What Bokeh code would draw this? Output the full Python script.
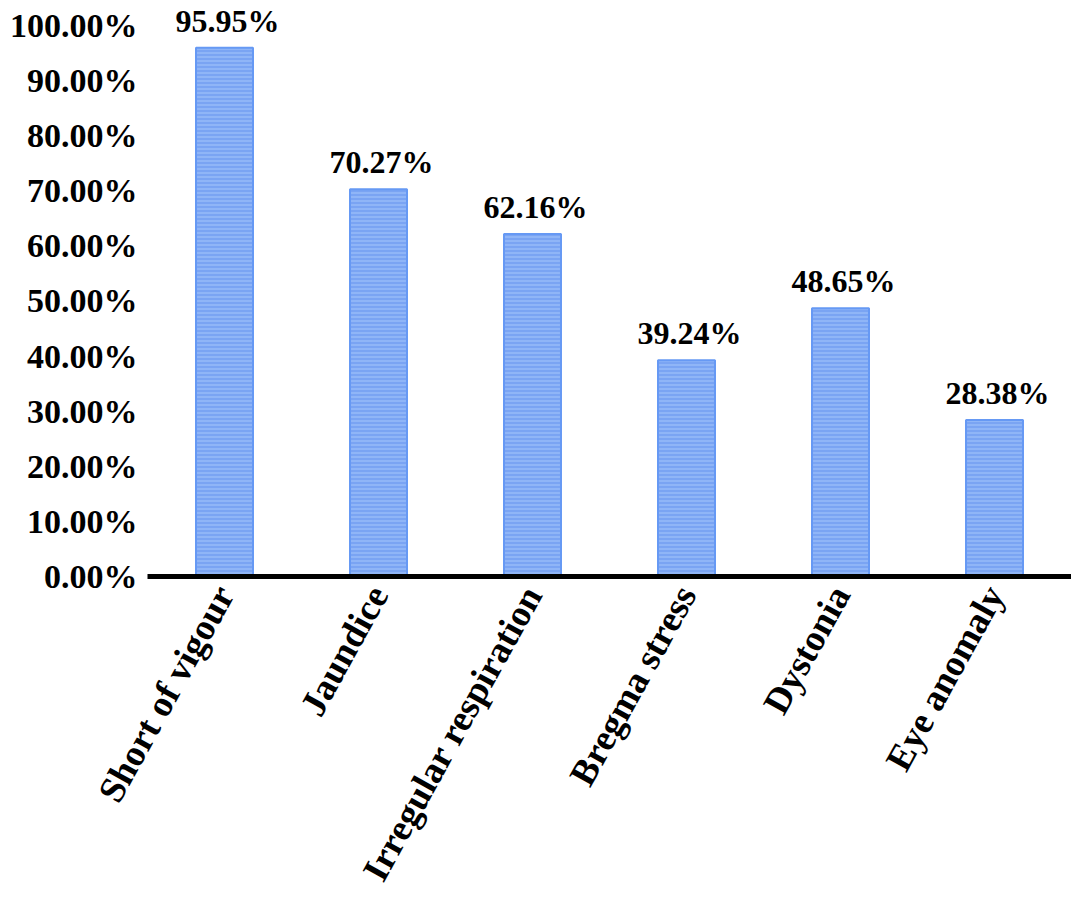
import math
from bokeh.plotting import figure
from bokeh.models import ColumnDataSource, FixedTicker
from bokeh.core.properties import value
from bokeh.embed import file_html
from bokeh.resources import INLINE

categories = ["Short of vigour", "Jaundice", "Irregular respiration",
              "Bregma stress", "Dystonia", "Eye anomaly"]
values = [95.95, 70.27, 62.16, 39.24, 48.65, 28.38]
bar_labels = ["95.95%", "70.27%", "62.16%", "39.24%", "48.65%", "28.38%"]
y_ticks = [0, 10, 20, 30, 40, 50, 60, 70, 80, 90, 100]
y_tick_labels = ["0.00%", "10.00%", "20.00%", "30.00%", "40.00%", "50.00%",
                 "60.00%", "70.00%", "80.00%", "90.00%", "100.00%"]

src = ColumnDataSource(data=dict(cat=categories, val=values, lab=bar_labels))

FONT = "Liberation Serif"

p = figure(x_range=categories, y_range=(0, 104.5),
           frame_width=924, frame_height=576,
           output_backend="svg", toolbar_location=None,
           min_border_left=147, min_border_right=0, min_border_top=0,
           min_border_bottom=0)

p.vbar(x="cat", top="val", width=0.37, source=src,
       fill_color="#8FB5F7", line_color="#6699F4", line_width=2,
       hatch_pattern="horizontal_line", hatch_color="#739FF2",
       hatch_scale=4, hatch_weight=1.5)

p.text(x="cat", y="val", text="lab", source=src,
       text_font=value(FONT), text_font_style="bold", text_font_size="32px",
       text_align="center", text_baseline="alphabetic",
       x_offset=3, y_offset=-27, text_color="black")

p.outline_line_color = None
p.xgrid.grid_line_color = None
p.ygrid.grid_line_color = None
p.background_fill_color = "white"
p.border_fill_color = "white"

p.yaxis.ticker = FixedTicker(ticks=y_ticks)
p.yaxis.major_label_overrides = {t: l for t, l in zip(y_ticks, y_tick_labels)}
p.yaxis.axis_line_color = None
p.yaxis.major_tick_line_color = None
p.yaxis.minor_tick_line_color = None
p.yaxis.major_tick_out = 0
p.yaxis.major_tick_in = 0
p.yaxis.minor_tick_out = 0
p.yaxis.major_label_standoff = 10
p.yaxis.major_label_text_font = FONT
p.yaxis.major_label_text_font_style = "bold"
p.yaxis.major_label_text_font_size = "34px"
p.yaxis.major_label_text_color = "black"

p.xaxis.axis_line_color = "black"
p.xaxis.axis_line_width = 5
p.xaxis.major_tick_line_color = None
p.xaxis.minor_tick_line_color = None
p.xaxis.major_tick_out = 0
p.xaxis.major_tick_in = 0
p.xaxis.major_label_orientation = math.radians(61)
p.xaxis.major_label_standoff = 12
p.xaxis.major_label_text_font = FONT
p.xaxis.major_label_text_font_style = "bold"
p.xaxis.major_label_text_font_size = "37px"
p.xaxis.major_label_text_color = "black"

p.x_range.range_padding = 0

open("out.html", "w").write(file_html(p, INLINE))
